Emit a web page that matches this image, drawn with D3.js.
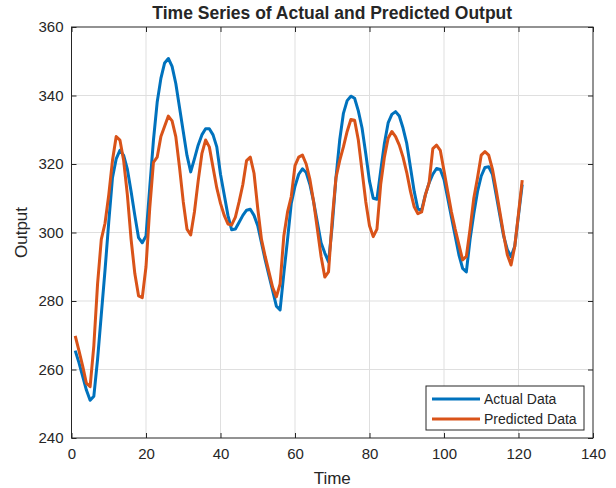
<!DOCTYPE html>
<meta charset="utf-8">
<title>Time Series of Actual and Predicted Output</title>
<style>
body { margin: 0; background: #fff; }
text { font-family: "Liberation Sans", Arial, sans-serif; fill: #262626; }
.line { fill: none; stroke-width: 3; stroke-linejoin: round; }
</style>
<body>
<div id="chart"></div>
<script src="https://cdn.jsdelivr.net/npm/d3@7"></script>
<script>
  // values, t = 1..121
  var actual = [
    265.5, 262, 258, 254, 251, 252.2, 263, 276, 289, 303,
    316, 321.5, 324, 322.5, 318.5, 312, 305, 298.5, 297, 299,
    313, 327, 338, 345, 349.5, 350.8, 348.5, 343.5, 336.5, 329.5,
    322.5, 317.7, 321.5, 325.5, 328.5, 330.3, 330.3, 328.5, 325, 317,
    311, 305, 300.8, 301, 303, 305, 306.5, 306.8, 305, 302,
    297, 292, 287.5, 283, 278.5, 277.4, 288, 298, 308.5, 313.5,
    317, 318.6, 317.5, 314, 309, 303, 297, 294, 291.4, 302,
    316, 327, 334.8, 338.5, 339.8, 339.2, 335.5, 330.5, 323, 315,
    310, 309.7, 318, 326, 332, 334.5, 335.3, 334, 330.5, 326,
    319, 312, 306.8, 306.6, 311, 314.5, 317, 318.7, 318.4, 315.5,
    310, 304.5, 299, 293.5, 289.5, 288.5, 298, 305.5, 312, 316.5,
    319, 319.2, 317, 311, 305, 299, 295, 293, 296, 305,
    314
  ];
  var predicted = [
    269.8, 265.5, 261, 256, 255, 267, 285, 298, 302.7, 311,
    321, 328, 327, 321, 311, 298, 288, 281.5, 281, 290,
    307, 320.5, 322, 328, 331, 334, 332.6, 328, 319, 309,
    301, 299.3, 306, 315, 323, 327, 325, 319, 313, 308.5,
    305, 302.5, 302.2, 304.5, 309, 314, 321, 322, 317.3, 307,
    298, 293, 288.5, 284, 281.2, 285, 299, 306, 310.5, 319.5,
    322, 322.6, 320, 315.5, 309, 301, 293, 287, 288.5, 304,
    316, 321, 325, 329.5, 333, 332.8, 327, 318, 309, 302,
    298.8, 301, 314, 322, 327.5, 329.5, 328, 325.5, 322, 317.5,
    312, 307.5, 305.5, 306, 311, 314.5, 324.5, 325.5, 324, 318,
    312, 306, 301, 296.5, 292, 293, 301, 310, 316, 322.6,
    323.6, 322.6, 318.5, 312.5, 306, 299.5, 293.5, 290.5, 296, 305.5,
    315.3
  ];
  var xTicks = [0, 20, 40, 60, 80, 100, 120, 140];
  var yTicks = [240, 260, 280, 300, 320, 340, 360];
  var seriesNames = ["Actual Data", "Predicted Data"];
  var seriesColors = ["#0072BD", "#D95319"];

  var W = 616, H = 488;
  var margin = {top: 27, right: 23, bottom: 50, left: 71.5},
      width = W - margin.left - margin.right,
      height = H - margin.top - margin.bottom;

  var svg = d3.select("#chart").append("svg")
      .attr("width", W)
      .attr("height", H);

  var g = svg.append("g")
      .attr("transform", "translate(" + margin.left + "," + margin.top + ")");

  var x = d3.scaleLinear().domain([0, 140]).range([0, width]);
  var y = d3.scaleLinear().domain([240, 360]).range([height, 0]);

  // grid
  g.append("g").selectAll("line").data(xTicks.slice(1, -1)).enter().append("line")
      .attr("x1", d => x(d)).attr("x2", d => x(d))
      .attr("y1", 0).attr("y2", height)
      .attr("stroke", "#dfdfdf").attr("stroke-width", 1);
  g.append("g").selectAll("line").data(yTicks.slice(1, -1)).enter().append("line")
      .attr("y1", d => y(d)).attr("y2", d => y(d))
      .attr("x1", 0).attr("x2", width)
      .attr("stroke", "#dfdfdf").attr("stroke-width", 1);

  // lines
  var line = d3.line()
      .x((d, i) => x(i + 1))
      .y(d => y(d));

  [actual, predicted].forEach(function(s, k) {
    g.append("path")
        .datum(s)
        .attr("class", "line")
        .attr("stroke", seriesColors[k])
        .attr("d", line);
  });

  // axes, ticks inward on all four sides
  function styleAxis(sel) {
    sel.select(".domain").remove();
    sel.selectAll(".tick line").attr("stroke", "#262626");
    sel.selectAll(".tick text")
        .style("font-size", "15px")
        .style("font-family", "'Liberation Sans', Arial, sans-serif")
        .attr("fill", "#262626");
  }

  g.append("g")
      .attr("transform", "translate(0," + height + ")")
      .call(d3.axisBottom(x).tickValues(xTicks).tickSizeInner(-5).tickSizeOuter(0).tickPadding(10))
      .call(styleAxis);
  g.append("g")
      .call(d3.axisTop(x).tickValues(xTicks).tickSizeInner(-5).tickSizeOuter(0).tickFormat(""))
      .call(styleAxis);
  g.append("g")
      .call(d3.axisLeft(y).tickValues(yTicks).tickSizeInner(-5).tickSizeOuter(0).tickPadding(8))
      .call(styleAxis);
  g.append("g")
      .attr("transform", "translate(" + width + ",0)")
      .call(d3.axisRight(y).tickValues(yTicks).tickSizeInner(-5).tickSizeOuter(0).tickFormat(""))
      .call(styleAxis);

  g.append("rect")
      .attr("width", width).attr("height", height)
      .attr("fill", "none").attr("stroke", "#262626").attr("stroke-width", 1);

  // labels
  svg.append("text")
      .attr("x", margin.left + width / 2).attr("y", 19)
      .attr("text-anchor", "middle")
      .style("font-size", "17.5px").style("font-weight", "bold")
      .attr("fill", "#000")
      .text("Time Series of Actual and Predicted Output");

  svg.append("text")
      .attr("x", margin.left + width / 2).attr("y", 484)
      .attr("text-anchor", "middle")
      .style("font-size", "17px")
      .text("Time");

  svg.append("text")
      .attr("transform", "translate(27," + (margin.top + height / 2) + ") rotate(-90)")
      .attr("text-anchor", "middle")
      .style("font-size", "17px")
      .text("Output");

  // legend
  var lg = svg.append("g").attr("transform", "translate(426,386)");
  lg.append("rect")
      .attr("width", 158).attr("height", 44)
      .attr("fill", "#fff").attr("stroke", "#262626").attr("stroke-width", 1);
  seriesNames.forEach(function(name, k) {
    var yy = 13 + k * 20;
    lg.append("line")
        .attr("x1", 6).attr("x2", 54).attr("y1", yy).attr("y2", yy)
        .attr("stroke", seriesColors[k]).attr("stroke-width", 3);
    lg.append("text")
        .attr("x", 58).attr("y", yy + 5)
        .style("font-size", "14px")
        .attr("fill", "#000")
        .text(name);
  });
</script>
</body>
</html>
